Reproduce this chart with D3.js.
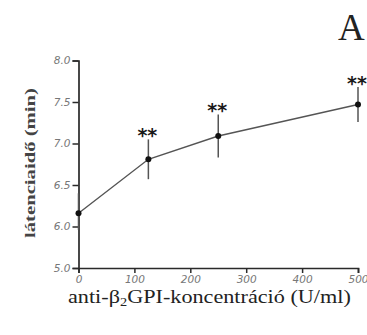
<!DOCTYPE html>
<html><head><meta charset="utf-8">
<script src="https://cdn.jsdelivr.net/npm/d3@7/dist/d3.min.js"></script>
<style>body{margin:0;background:#fff}svg{display:block}</style>
</head><body>
<script>
const concentrations = [0, 125, 250, 500];
const latency = [6.16, 6.81, 7.09, 7.47];
const sem = [0.24, 0.24, 0.26, 0.21];
const significance = ["", "**", "**", "**"];
const yTicks = [5.0, 6.0, 6.5, 7.0, 7.5, 8.0];
const xTicks = [0, 100, 200, 300, 400, 500];

const W = 367, H = 335;
const svg = d3.select("body").append("svg").attr("width", W).attr("height", H);

const x = d3.scaleLinear().domain([0, 500]).range([78.5, 358]);
// segmented (broken) y axis: 5.0 sits one half-unit step below 6.0
const y = d3.scaleLinear().domain([5.0, 6.0, 8.0]).range([268, 226.5, 60.5]);

const ink = "#2a2a2a";
const serif = "'Liberation Serif', 'Times New Roman', serif";

const gx = svg.append("g").attr("transform", `translate(0,${y(5.0)})`)
  .call(d3.axisBottom(x).tickValues(xTicks).tickSize(5).tickPadding(3).tickFormat(d3.format("d")));
const gy = svg.append("g").attr("transform", `translate(${x(0)},0)`)
  .call(d3.axisLeft(y).tickValues(yTicks).tickSize(6).tickPadding(2).tickFormat(d3.format(".1f")));
[gx, gy].forEach(g => {
  g.select(".domain").attr("stroke", ink).attr("stroke-width", 1.7);
  g.selectAll(".tick line").attr("stroke", ink).attr("stroke-width", 1.5);
  g.selectAll(".tick text").attr("fill", "#777").attr("font-family", "DejaVu Sans, sans-serif")
    .attr("font-size", 10.5).attr("font-style", "italic");
});

const line = d3.line().x((d, i) => x(concentrations[i])).y(d => y(d));
svg.append("path").datum(latency).attr("d", line).attr("fill", "none")
  .attr("stroke", "#555").attr("stroke-width", 1.4);

svg.selectAll(".err").data(latency).enter().append("line")
  .attr("x1", (d, i) => x(concentrations[i])).attr("x2", (d, i) => x(concentrations[i]))
  .attr("y1", (d, i) => y(d + sem[i])).attr("y2", (d, i) => y(d - sem[i]))
  .attr("stroke", "#555").attr("stroke-width", 1.5);

svg.selectAll(".pt").data(latency).enter().append("circle")
  .attr("cx", (d, i) => x(concentrations[i])).attr("cy", d => y(d)).attr("r", 3)
  .attr("fill", "#111");

svg.selectAll(".sig").data(latency).enter().append("text")
  .attr("x", (d, i) => x(concentrations[i]) - 1).attr("y", (d, i) => y(d + sem[i]) + 3)
  .attr("text-anchor", "middle").attr("font-family", "DejaVu Sans, sans-serif")
  .attr("font-weight", "bold").attr("font-size", 19).attr("fill", "#1a1a1a")
  .text((d, i) => significance[i]);

svg.append("text").attr("x", 338).attr("y", 40).attr("font-family", serif)
  .attr("font-size", 37).attr("fill", "#222").text("A");

svg.append("text").attr("transform", "translate(35,163) rotate(-90)").attr("text-anchor", "middle")
  .attr("font-family", serif).attr("font-weight", "bold").attr("font-size", 15)
  .attr("textLength", 150).attr("lengthAdjust", "spacingAndGlyphs")
  .attr("fill", "#444").text("látenciaidő (min)");

const xl = svg.append("text").attr("transform", "translate(68,303) scale(1.2,1)")
  .attr("font-family", serif).attr("font-size", 18.5).attr("fill", "#222");
xl.append("tspan").text("anti-β");
xl.append("tspan").attr("font-size", 12).attr("dy", 3).text("2");
xl.append("tspan").attr("dy", -3).text("GPI-koncentráció (U/ml)");
</script>
</body></html>
